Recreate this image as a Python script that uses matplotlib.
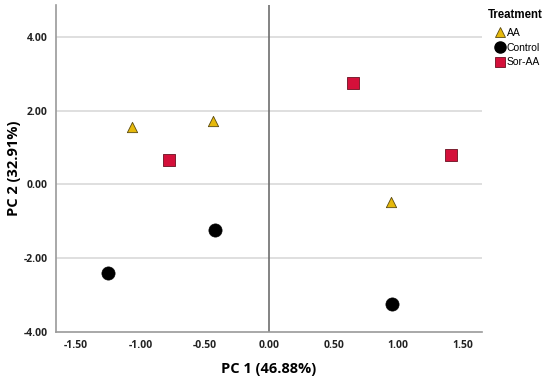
import matplotlib
matplotlib.use("Agg")
import matplotlib.pyplot as plt
from matplotlib.lines import Line2D

plt.rcParams['font.family'] = ['Open Sans', 'DejaVu Sans']

groups = ["AA", "Control", "Sor-AA"]
aa_x = [-1.07, -0.44, 0.94]
aa_y = [1.56, 1.71, -0.47]
ctrl_x = [-1.25, -0.42, 0.95]
ctrl_y = [-2.41, -1.24, -3.25]
sor_x = [-0.78, 0.65, 1.41]
sor_y = [0.65, 2.75, 0.79]
xticks = [-1.5, -1.0, -0.5, 0.0, 0.5, 1.0, 1.5]
yticks = [-4.0, -2.0, 0.0, 2.0, 4.0]

fig = plt.figure(figsize=(5.5, 3.81), dpi=100)
ax = fig.add_axes([56/550, 1-332/381, (482-56)/550, (332-5)/381])

ax.set_xlim(-1.657, 1.65)
ax.set_ylim(-4.0, 4.86)
for y in yticks[1:]:
    ax.axhline(y, color='#d9d9d9', lw=1.2, zorder=0)
ax.axvline(0, color='#6e6e6e', lw=1.2, zorder=1)

ax.scatter(aa_x, aa_y, marker='^', s=55, c='#e6b90b', edgecolors='#5a4a10', linewidths=0.6, zorder=3)
ax.scatter(ctrl_x, ctrl_y, marker='o', s=90, c='black', edgecolors='black', linewidths=0.5, zorder=3)
ax.scatter(sor_x, sor_y, marker='s', s=80, c='#d4103a', edgecolors='#6a1020', linewidths=0.6, zorder=3)

for s in ['top', 'right']:
    ax.spines[s].set_visible(False)
for s in ['left', 'bottom']:
    ax.spines[s].set_color('#9a9a9a')
    ax.spines[s].set_linewidth(1.2)

ax.set_xticks(xticks)
ax.set_yticks(yticks)
ax.set_xticklabels([f"{v:.2f}" for v in xticks], fontsize=7.5, fontweight='bold', color='#222222')
ax.set_yticklabels([f"{v:.2f}" for v in yticks], fontsize=7.5, fontweight='bold', color='#222222')
ax.tick_params(axis='x', length=0, pad=6)
ax.tick_params(axis='y', length=0, pad=6)

ax.set_xlabel("PC 1 (46.88%)", fontsize=10.5, fontweight='bold')
ax.set_ylabel("PC 2 (32.91%)", fontsize=10.5, fontweight='bold')
ax.xaxis.set_label_coords(0.5, -0.093)
ax.yaxis.set_label_coords(-0.082, 0.5)

fig.text(488/550, 1-15/381, "Treatment", fontsize=8.3, fontweight='bold',
         family='Liberation Sans', ha='left', va='center')

handles = [
    Line2D([], [], marker='^', ls='', markersize=7, markerfacecolor='#e6b90b', markeredgecolor='#5a4a10', markeredgewidth=0.6),
    Line2D([], [], marker='o', ls='', markersize=8, markerfacecolor='black', markeredgecolor='black'),
    Line2D([], [], marker='s', ls='', markersize=7.5, markerfacecolor='#d4103a', markeredgecolor='#6a1020', markeredgewidth=0.6),
]
leg = fig.legend(handles, groups, loc='upper left', bbox_to_anchor=(494/550, 1-26/381),
                 frameon=False, prop={'family': 'Liberation Sans', 'size': 7.5},
                 handlelength=0.8, handletextpad=0.2, labelspacing=0.45,
                 borderpad=0.2, borderaxespad=0)

fig.savefig("out.png", dpi=100)
